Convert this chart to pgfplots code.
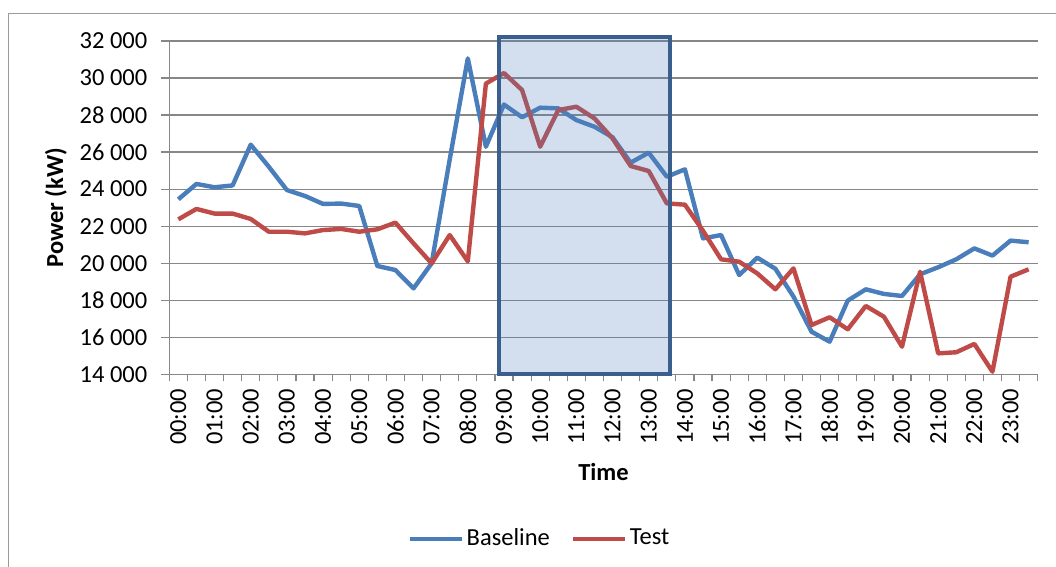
\documentclass[border=0pt]{standalone}
\usepackage{pgfplots}
\pgfplotsset{compat=1.18}
\usepackage{fontspec}
\setmainfont{Carlito}
\definecolor{blueS}{HTML}{4A7EBB}
\definecolor{redS}{HTML}{BE4B48}
\definecolor{gridc}{HTML}{878787}
\definecolor{boxb}{HTML}{3A5F8F}
\definecolor{boxf}{HTML}{4F81BD}
\definecolor{framec}{HTML}{9A9A9A}
\pgfplotstableread{
i base test
0 23450 22370
1 24280 22930
2 24100 22680
3 24200 22680
4 26400 22390
5 25210 21700
6 23950 21700
7 23630 21610
8 23200 21790
9 23220 21850
10 23090 21700
11 19850 21830
12 19630 22190
13 18640 21070
14 19990 19990
15 25600 21520
16 31060 20100
17 26290 29700
18 28570 30270
19 27880 29350
20 28400 26290
21 28360 28270
22 27730 28450
23 27370 27820
24 26800 26740
25 25430 25250
26 25970 24980
27 24670 23230
28 25070 23160
29 21340 21750
30 21520 20210
31 19360 20080
32 20300 19450
33 19700 18590
34 18200 19720
35 16300 16660
36 15760 17080
37 17980 16430
38 18590 17690
39 18340 17110
40 18230 15490
41 19400 19540
42 19780 15130
43 20210 15190
44 20800 15640
45 20410 14140
46 21220 19270
47 21130 19670
}\datatable
\begin{document}
\fontsize{12.25}{14.5}\selectfont
\begin{tikzpicture}
\useasboundingbox (-84.65pt,-96.35pt) rectangle (443.35pt,187.15pt);
\draw[framec, line width=0.6pt] (-80.4pt,-100pt) -- (-80.4pt,180.4pt) -- (450pt,180.4pt);
\begin{axis}[
  at={(0pt,0pt)}, anchor=south west,
  scale only axis, width=434.2pt, height=166.65pt,
  xmin=-0.5, xmax=47.5, ymin=14000, ymax=32000,
  axis x line*=bottom, axis y line*=left,
  axis line style={gridc, line width=0.6pt, -},
  ytick={14000,16000,...,32000},
  ymajorgrids, grid style={gridc, line width=0.6pt},
  scaled y ticks=false,
  /pgf/number format/assume math mode=true,
  /pgf/number format/1000 sep={\ },
  tick align=outside,
  major tick length=4pt, minor tick length=3.5pt,
  tick style={gridc, line width=0.6pt},
  xtick={0,2,...,46},
  xticklabels={00:00,01:00,02:00,03:00,04:00,05:00,06:00,07:00,08:00,09:00,10:00,11:00,12:00,13:00,14:00,15:00,16:00,17:00,18:00,19:00,20:00,21:00,22:00,23:00},
  minor xtick={-0.5,0.5,...,47.5},
  major x tick style={draw=none},
  xticklabel style={rotate=90, anchor=east, inner sep=0pt, xshift=-3pt},
  yticklabel style={anchor=east, inner sep=0pt, xshift=-6.8pt},
  xlabel={\textbf{Time}}, ylabel={\textbf{Power (kW)}},
  every axis x label/.style={at={(axis description cs:0.5,-0.2931)}, anchor=center},
  every axis y label/.style={at={(axis description cs:-0.1305,0.5)}, rotate=90, anchor=center},
  legend columns=2,
  legend style={draw=none, fill=none, at={(axis description cs:0.4269,-0.494)}, anchor=center,
    /tikz/every even column/.append style={column sep=9pt},
    nodes={inner sep=1.5pt}},
  legend image code/.code={\draw[#1] (0pt,0pt) -- (25.8pt,0pt);},
  clip=false,
]
\addplot[blueS, line width=2.2pt, line join=round] table[x=i, y=base] {\datatable};
\addlegendentry{Baseline}
\addplot[redS, line width=2.2pt, line join=round] table[x=i, y=test] {\datatable};
\addlegendentry{Test}
\draw[boxb, line width=2pt, fill=boxf, fill opacity=0.25] (axis cs:17.73,32200) rectangle (axis cs:27.2,14000);
\end{axis}
\end{tikzpicture}
\end{document}
